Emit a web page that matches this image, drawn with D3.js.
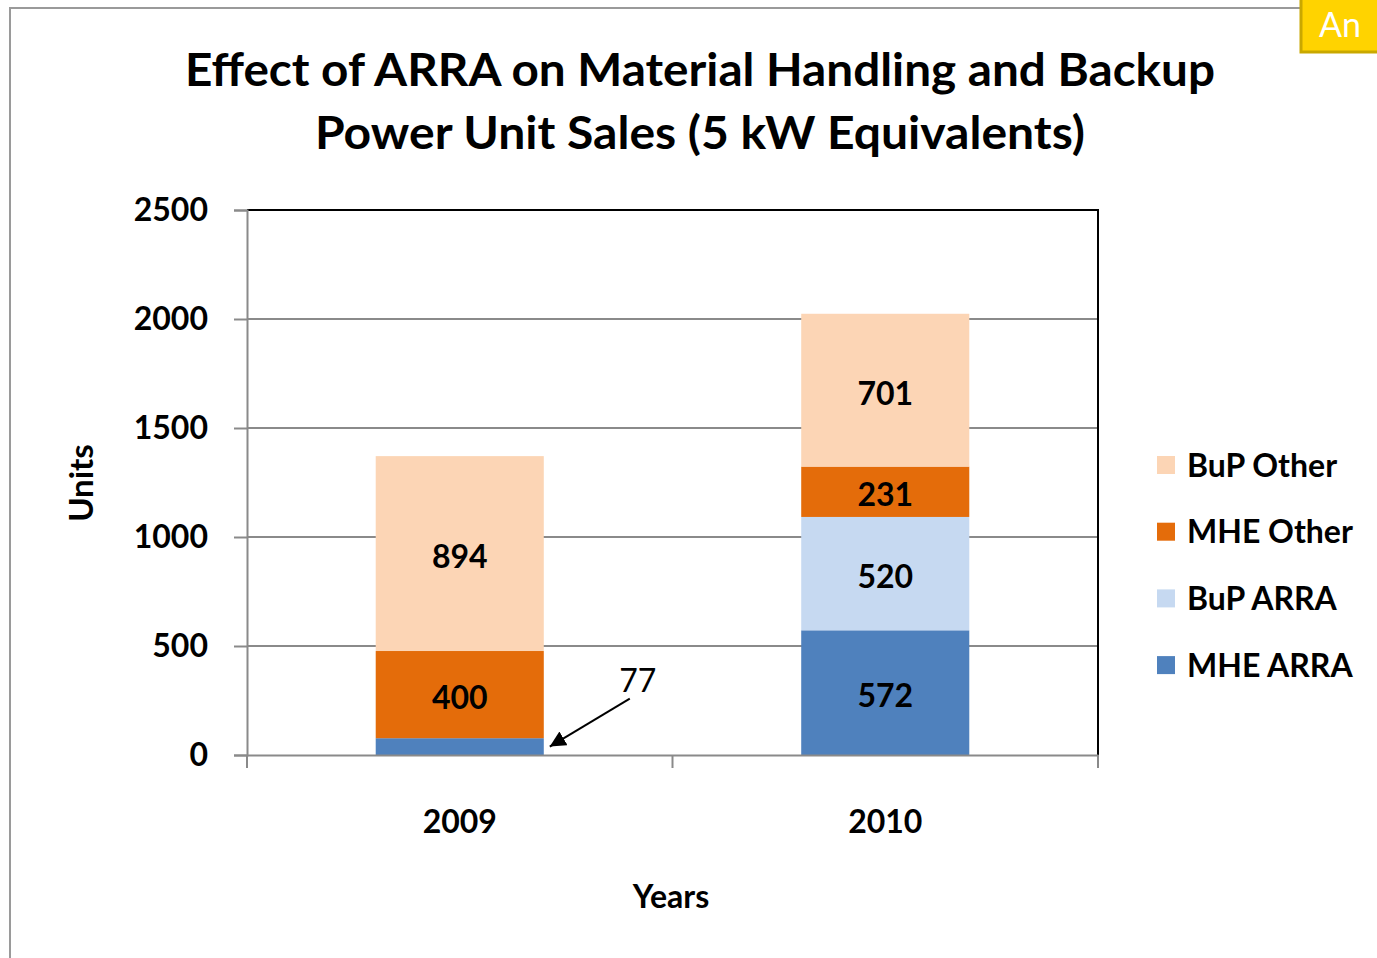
<!DOCTYPE html>
<html>
<head>
<meta charset="utf-8">
<script src="https://cdn.jsdelivr.net/npm/d3@7"></script>
<style>
  html, body { margin: 0; padding: 0; background: #fff; }
  svg text { font-family: Lato, "Open Sans", sans-serif; fill: #000; }
</style>
</head>
<body>
<svg id="chart" width="1377" height="958"></svg>
<script>
// Data
var years = ["2009", "2010"];
var seriesKeys = ["MHE ARRA", "BuP ARRA", "MHE Other", "BuP Other"];
var mheArra = [77, 572];
var bupArra = [0, 520];
var mheOther = [400, 231];
var bupOther = [894, 701];
var yTicks = [0, 500, 1000, 1500, 2000, 2500];
var legendOrder = ["BuP Other", "MHE Other", "BuP ARRA", "MHE ARRA"];

var colors = {
  "MHE ARRA": "#4f81bd",
  "BuP ARRA": "#c6d9f1",
  "MHE Other": "#e46c0a",
  "BuP Other": "#fcd5b5"
};

var rows = years.map(function (y, i) {
  return {
    year: y,
    "MHE ARRA": mheArra[i],
    "BuP ARRA": bupArra[i],
    "MHE Other": mheOther[i],
    "BuP Other": bupOther[i]
  };
});

var svg = d3.select("#chart");

// outer chart frame
svg.append("path")
  .attr("d", "M10,958 L10,8 L1302,8")
  .attr("fill", "none")
  .attr("stroke", "#9a9a9a")
  .attr("stroke-width", 2);

// yellow tag top right
svg.append("rect")
  .attr("x", 1301).attr("y", -4).attr("width", 90).attr("height", 56)
  .attr("fill", "#ffd300").attr("stroke", "#c9a800").attr("stroke-width", 3);
svg.append("text")
  .attr("x", 1319).attr("y", 37)
  .style("font-size", "34px").style("fill", "#fff")
  .text("An");

var plot = { left: 247, right: 1098, top: 210, bottom: 755 };

var x = d3.scaleBand()
  .domain(years)
  .range([plot.left, plot.right])
  .paddingInner(0.605)
  .paddingOuter(0.3025);

var y = d3.scaleLinear()
  .domain([0, 2500])
  .range([plot.bottom, plot.top]);

// gridlines
svg.append("g")
  .selectAll("line")
  .data(yTicks.filter(function (d) { return d > 0 && d < 2500; }))
  .enter()
  .append("line")
  .attr("x1", plot.left).attr("x2", plot.right)
  .attr("y1", function (d) { return y(d); })
  .attr("y2", function (d) { return y(d); })
  .attr("stroke", "#8a8a8a").attr("stroke-width", 2);

// plot border top & right
svg.append("path")
  .attr("d", "M" + plot.left + "," + y(2500) + " L" + plot.right + "," + y(2500) + " L" + plot.right + "," + plot.bottom)
  .attr("fill", "none").attr("stroke", "#000").attr("stroke-width", 2);

// stacked bars
var stack = d3.stack().keys(seriesKeys);
var stacked = stack(rows);

svg.append("g")
  .selectAll("g")
  .data(stacked)
  .enter()
  .append("g")
  .attr("fill", function (d) { return colors[d.key]; })
  .selectAll("rect")
  .data(function (d) { return d; })
  .enter()
  .append("rect")
  .attr("x", function (d) { return x(d.data.year); })
  .attr("width", x.bandwidth())
  .attr("y", function (d) { return y(d[1]); })
  .attr("height", function (d) { return y(d[0]) - y(d[1]); });

// y axis
var yAxis = svg.append("g")
  .attr("transform", "translate(" + plot.left + ",0)")
  .call(d3.axisLeft(y).tickValues(yTicks).tickFormat(d3.format("d")).tickSize(13).tickPadding(26));
yAxis.select(".domain").attr("stroke", "#8a8a8a").attr("stroke-width", 2);
yAxis.selectAll(".tick line").attr("stroke", "#8a8a8a").attr("stroke-width", 2);
yAxis.selectAll(".tick text")
  .style("font-size", "32px").style("font-weight", "bold")
  .attr("font-family", null);

// x axis
var xAxis = svg.append("g")
  .attr("transform", "translate(0," + plot.bottom + ")")
  .call(d3.axisBottom(x).tickSize(0).tickPadding(55));
xAxis.select(".domain").attr("stroke", "#8a8a8a").attr("stroke-width", 2);
xAxis.selectAll(".tick text")
  .style("font-size", "32px").style("font-weight", "bold")
  .attr("font-family", null);

// category boundary ticks
var bounds = [plot.left].concat(years.map(function (d) {
  return x(d) + x.bandwidth() + x.step() * x.paddingInner() / 2;
}));
bounds[bounds.length - 1] = plot.right;
svg.append("g")
  .selectAll("line")
  .data(bounds)
  .enter()
  .append("line")
  .attr("x1", function (d) { return d; }).attr("x2", function (d) { return d; })
  .attr("y1", plot.bottom).attr("y2", plot.bottom + 13)
  .attr("stroke", "#8a8a8a").attr("stroke-width", 2);

// data labels
var labels = [];
stacked.forEach(function (s) {
  s.forEach(function (d) {
    var v = d[1] - d[0];
    if (v >= 100) labels.push({ year: d.data.year, mid: (d[0] + d[1]) / 2, v: v });
  });
});
svg.append("g")
  .selectAll("text")
  .data(labels)
  .enter()
  .append("text")
  .attr("x", function (d) { return x(d.year) + x.bandwidth() / 2; })
  .attr("y", function (d) { return y(d.mid); })
  .attr("dy", "0.45em")
  .attr("text-anchor", "middle")
  .style("font-size", "32px").style("font-weight", "bold")
  .text(function (d) { return d.v; });

// callout for the small 2009 MHE ARRA value
var small = stacked[0][0];
var tipX = x("2009") + x.bandwidth() + 6;
var tipY = y((small[0] + small[1]) / 2);
svg.append("defs").append("marker")
  .attr("id", "arrow")
  .attr("viewBox", "0 0 10 10")
  .attr("refX", 10).attr("refY", 5)
  .attr("markerWidth", 8).attr("markerHeight", 8)
  .attr("markerUnits", "strokeWidth")
  .attr("orient", "auto")
  .append("path").attr("d", "M0,0 L10,5 L0,10 z").attr("fill", "#000");
svg.append("line")
  .attr("x1", tipX + 80).attr("y1", tipY - 48)
  .attr("x2", tipX).attr("y2", tipY)
  .attr("stroke", "#000").attr("stroke-width", 2)
  .attr("marker-end", "url(#arrow)");
svg.append("text")
  .attr("x", tipX + 88).attr("y", tipY - 55)
  .attr("text-anchor", "middle")
  .style("font-size", "32px")
  .text(small[1] - small[0]);

// axis titles
svg.append("text")
  .attr("x", 671).attr("y", 908)
  .attr("text-anchor", "middle")
  .style("font-size", "32px").style("font-weight", "bold")
  .text("Years");
svg.append("text")
  .attr("transform", "translate(93,483) rotate(-90)")
  .attr("text-anchor", "middle")
  .style("font-size", "33px").style("font-weight", "bold")
  .text("Units");

// title
svg.append("text")
  .attr("x", 700).attr("y", 86)
  .attr("text-anchor", "middle")
  .attr("textLength", 1030).attr("lengthAdjust", "spacingAndGlyphs")
  .style("font-size", "46px").style("font-weight", "bold")
  .text("Effect of ARRA on Material Handling and Backup");
svg.append("text")
  .attr("x", 700).attr("y", 149)
  .attr("text-anchor", "middle")
  .attr("textLength", 770).attr("lengthAdjust", "spacingAndGlyphs")
  .style("font-size", "46px").style("font-weight", "bold")
  .text("Power Unit Sales (5 kW Equivalents)");

// legend
var legend = svg.append("g")
  .selectAll("g")
  .data(legendOrder)
  .enter()
  .append("g")
  .attr("transform", function (d, i) { return "translate(1157," + (465 + i * 66.7) + ")"; });
legend.append("rect")
  .attr("x", 0).attr("y", -9).attr("width", 18).attr("height", 18)
  .attr("fill", function (d) { return colors[d]; });
legend.append("text")
  .attr("x", 30).attr("y", 0).attr("dy", "0.36em")
  .style("font-size", "32px").style("font-weight", "bold")
  .text(function (d) { return d; });
</script>
</body>
</html>
